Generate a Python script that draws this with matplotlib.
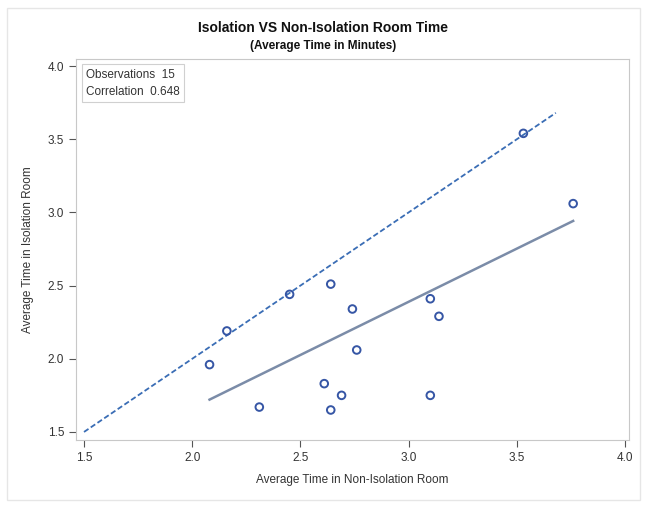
import matplotlib
matplotlib.use("Agg")
import matplotlib.pyplot as plt
from matplotlib.patches import Rectangle
import numpy as np

# average time (minutes) per observation
non_isolation = [2.08, 2.16, 2.31, 2.45, 2.64, 2.74, 2.61, 2.69, 2.64, 2.76,
                 3.10, 3.14, 3.10, 3.53, 3.76]
isolation = [1.96, 2.19, 1.67, 2.44, 2.51, 2.34, 1.83, 1.75, 1.65, 2.06,
             2.41, 2.29, 1.75, 3.54, 3.06]
ref_line_x = [1.5, 3.68]
ticks = [1.5, 2.0, 2.5, 3.0, 3.5, 4.0]
n_obs = 15
corr = 0.648

plt.rcParams['font.family'] = ['Liberation Sans']

fig = plt.figure(figsize=(6.47, 5.08), dpi=100)
fig.patches.append(Rectangle((7 / 647, 8 / 508), 633 / 647, 492 / 508, transform=fig.transFigure,
                             fill=False, edgecolor='#e6e6e6', linewidth=1))

ax = fig.add_axes([76 / 647, 68 / 508, 553 / 647, 381 / 508])

x = np.array(non_isolation)
y = np.array(isolation)

# y = x reference line
ax.plot(ref_line_x, ref_line_x, color='#3a6db5', linestyle=(0, (3, 1.5)), linewidth=1.3)

# fitted regression line
b, a = np.polyfit(x, y, 1)
xs = np.array([x.min(), x.max()])
ax.plot(xs, a + b * xs, color='#7b8ca8', linewidth=1.8)

ax.scatter(x, y, s=30, facecolors='none', edgecolors='#3656a5', linewidths=1.4, zorder=3)

ax.set_xlim(1.463, 4.018)
ax.set_ylim(1.445, 4.048)
ax.set_xticks(ticks)
ax.set_yticks(ticks)
ax.set_xticklabels([f'{t:.1f}' for t in ticks])
ax.set_yticklabels([f'{t:.1f}' for t in ticks])
for s in ax.spines.values():
    s.set_color('#c8c8c8')
ax.tick_params(colors='#555555', labelcolor='#333333', labelsize=8.5, length=5, direction='out')

ax.set_xlabel('Average Time in Non-Isolation Room', fontsize=8.5, color='#333333', labelpad=7)
ax.set_ylabel('Average Time in Isolation Room', fontsize=8.5, color='#333333', labelpad=10)

ax.text(0.018, 0.975, f'Observations  {n_obs}\nCorrelation  {corr}', transform=ax.transAxes,
        va='top', ha='left', fontsize=8.5, color='#333333', linespacing=1.6,
        bbox=dict(boxstyle='square,pad=0.35', facecolor='white', edgecolor='#d0d0d0', linewidth=0.8))

fig.text(0.5, 1 - 28 / 508, 'Isolation VS Non-Isolation Room Time', ha='center', va='center',
         fontsize=10, fontweight='bold', color='#111111')
fig.text(0.5, 1 - 46 / 508, '(Average Time in Minutes)', ha='center', va='center',
         fontsize=8.5, fontweight='bold', color='#111111')

fig.savefig('out.png', dpi=100)
